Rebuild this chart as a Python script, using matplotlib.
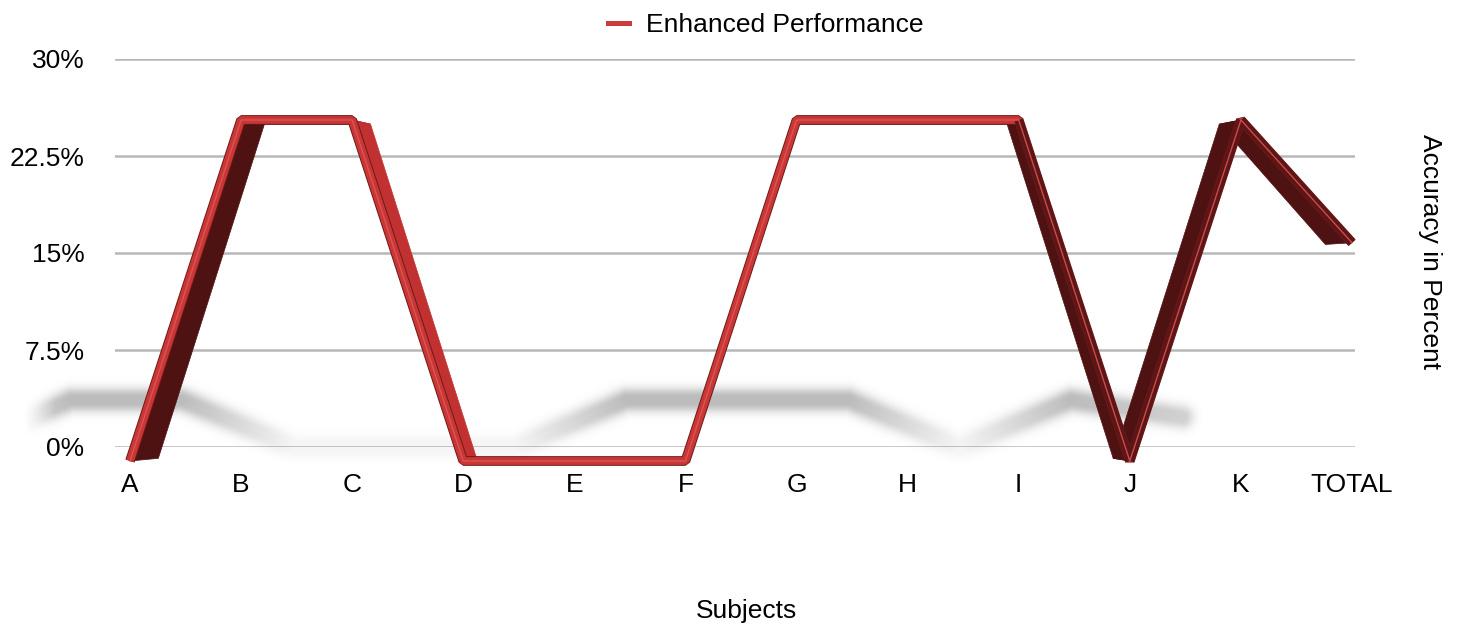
import numpy as np
import matplotlib
matplotlib.use('Agg')
import matplotlib.pyplot as plt
from matplotlib.patches import Polygon
from matplotlib.lines import Line2D
from matplotlib.transforms import IdentityTransform
import matplotlib.patheffects as pe

plt.rcParams['font.family'] = ['Liberation Sans', 'DejaVu Sans']

subjects = ['A', 'B', 'C', 'D', 'E', 'F', 'G', 'H', 'I', 'J', 'K', 'TOTAL']
accuracy = [0, 25, 25, 0, 0, 0, 25, 25, 25, 0, 25, 16]
y_ticks = [0, 7.5, 15, 22.5, 30]
y_tick_labels = ['0%', '7.5%', '15%', '22.5%', '30%']

W, H = 1461, 628
fig = plt.figure(figsize=(W / 100, H / 100), dpi=100)


def px_rect(x0, y_top, x1, y_bottom):
    """axes rect from pixel edges (origin top-left)"""
    return [x0 / W, 1 - y_bottom / H, (x1 - x0) / W, (y_bottom - y_top) / H]


xs = np.arange(len(subjects))
acc = np.array(accuracy, dtype=float)
step = (1352 - 130) / 11
xlim = (-(130 - 115) / step, 11 + (1355 - 1352) / step)

# main axes: grid, ticks, labels
ax = fig.add_axes(px_rect(115, 59, 1355, 447))
ax.set_xlim(xlim)
ax.set_ylim(0, 30)
ax.set_yticks(y_ticks)
ax.set_yticklabels(y_tick_labels)
ax.set_xticks(xs)
ax.set_xticklabels(subjects)
ax.tick_params(length=0, labelsize=19)
ax.tick_params(axis='y', pad=22)
ax.tick_params(axis='x', pad=19)
ax.yaxis.grid(True, color='#b8b8b8', lw=1.8)
ax.set_axisbelow(True)
for s in ax.spines.values():
    s.set_visible(False)
ax.set_zorder(0)

# floor shadow: same series squashed towards the floor and pushed left
ax_s = fig.add_axes(px_rect(35, 59, 1400, 447))
ax_s.set_xlim((35 - 130 + 170) / step, (1400 - 130 + 170) / step)
ax_s.set_ylim(0, 25 * 388 / 47)
ax_s.axis('off')

sp = ax_s.transData.transform(np.column_stack([xs, acc]))
gx, gy = np.meshgrid(np.arange(W) + 0.5, np.arange(H) + 0.5)
shade = np.zeros((H, W))
for i in range(len(xs) - 1):
    a, d = sp[i], sp[i + 1] - sp[i]
    t = np.clip(((gx - a[0]) * d[0] + (gy - a[1]) * d[1]) / (d @ d), 0, 1)
    dist = np.hypot(gx - (a[0] + t * d[0]), gy - (a[1] + t * d[1]))
    v = acc[i] + t * (acc[i + 1] - acc[i])
    val = np.exp(-np.maximum(dist - 3, 0) ** 2 / (2 * 6.5 ** 2)) * (0.15 + 0.85 * v / 25)
    shade = np.maximum(shade, val)
shade *= np.clip((gx - 25) / 30, 0, 1)
rgba = np.zeros((H, W, 4))
rgba[..., :3] = 0.42
rgba[..., 3] = 0.45 * shade
fig.figimage(rgba, 0, 0, origin='lower', zorder=1)

# ribbon axes
ax_r = fig.add_axes(px_rect(115, 59, 1355, 447))
ax_r.set_xlim(xlim)
ax_r.set_ylim(1.026, 29.47)
ax_r.axis('off')
ax_r.set_zorder(2)

pts = ax_r.transData.transform(np.column_stack([xs, acc]))
vp = np.array([760.0, H - 328.0])
kx, ky = 0.045, 0.02
back = pts + (vp - pts) * np.array([kx, ky])

light, dark = '#c23131', '#4e1212'
front_dark = []
for i in range(len(xs) - 1):
    d = pts[i + 1] - pts[i]
    off = (back[i] - pts[i] + back[i + 1] - pts[i + 1]) / 2
    nrm = np.array([-d[1], d[0]]) / np.hypot(*d)
    if np.dot(nrm, off) < 0:
        nrm = -nrm
    face = light if (nrm[1] > 0.3 and nrm[0] > -0.3) else dark
    if nrm[0] < -0.3:
        front_dark.append(i)
    quad = [pts[i], pts[i + 1], back[i + 1], back[i]]
    ax_r.add_patch(Polygon(quad, closed=True, transform=IdentityTransform(),
                           facecolor=face, edgecolor=face, lw=0.5,
                           clip_on=False, zorder=2))

edge = [pe.Stroke(linewidth=7, foreground='#6e1818'), pe.Normal()]
ax_r.plot(xs, acc, color='#c93636', lw=5.6, solid_joinstyle='bevel',
          solid_capstyle='butt', clip_on=False, zorder=3, path_effects=edge)
for i in front_dark:
    ax_r.plot(xs[i:i + 2], acc[i:i + 2], color='#5e1515', lw=6.2,
              solid_capstyle='butt', clip_on=False, zorder=3.5)
ax_r.plot(xs, acc, color='#e25b5b', lw=1.0, alpha=0.8,
          solid_joinstyle='bevel', clip_on=False, zorder=4)

handle = Line2D([], [], color='#cc3b3b', lw=3.6)
fig.legend([handle], ['Enhanced Performance'], loc='center',
           bbox_to_anchor=(766 / W, 1 - 25 / H), frameon=False, fontsize=19,
           handlelength=0.8, handletextpad=0.65)

fig.text(746 / W, 1 - 611 / H, 'Subjects', ha='center', va='center', fontsize=19)
fig.text(1430 / W, 1 - 252 / H, 'Accuracy in Percent', ha='center', va='center',
         rotation=270, fontsize=19)

fig.savefig('out.png', dpi=100)
